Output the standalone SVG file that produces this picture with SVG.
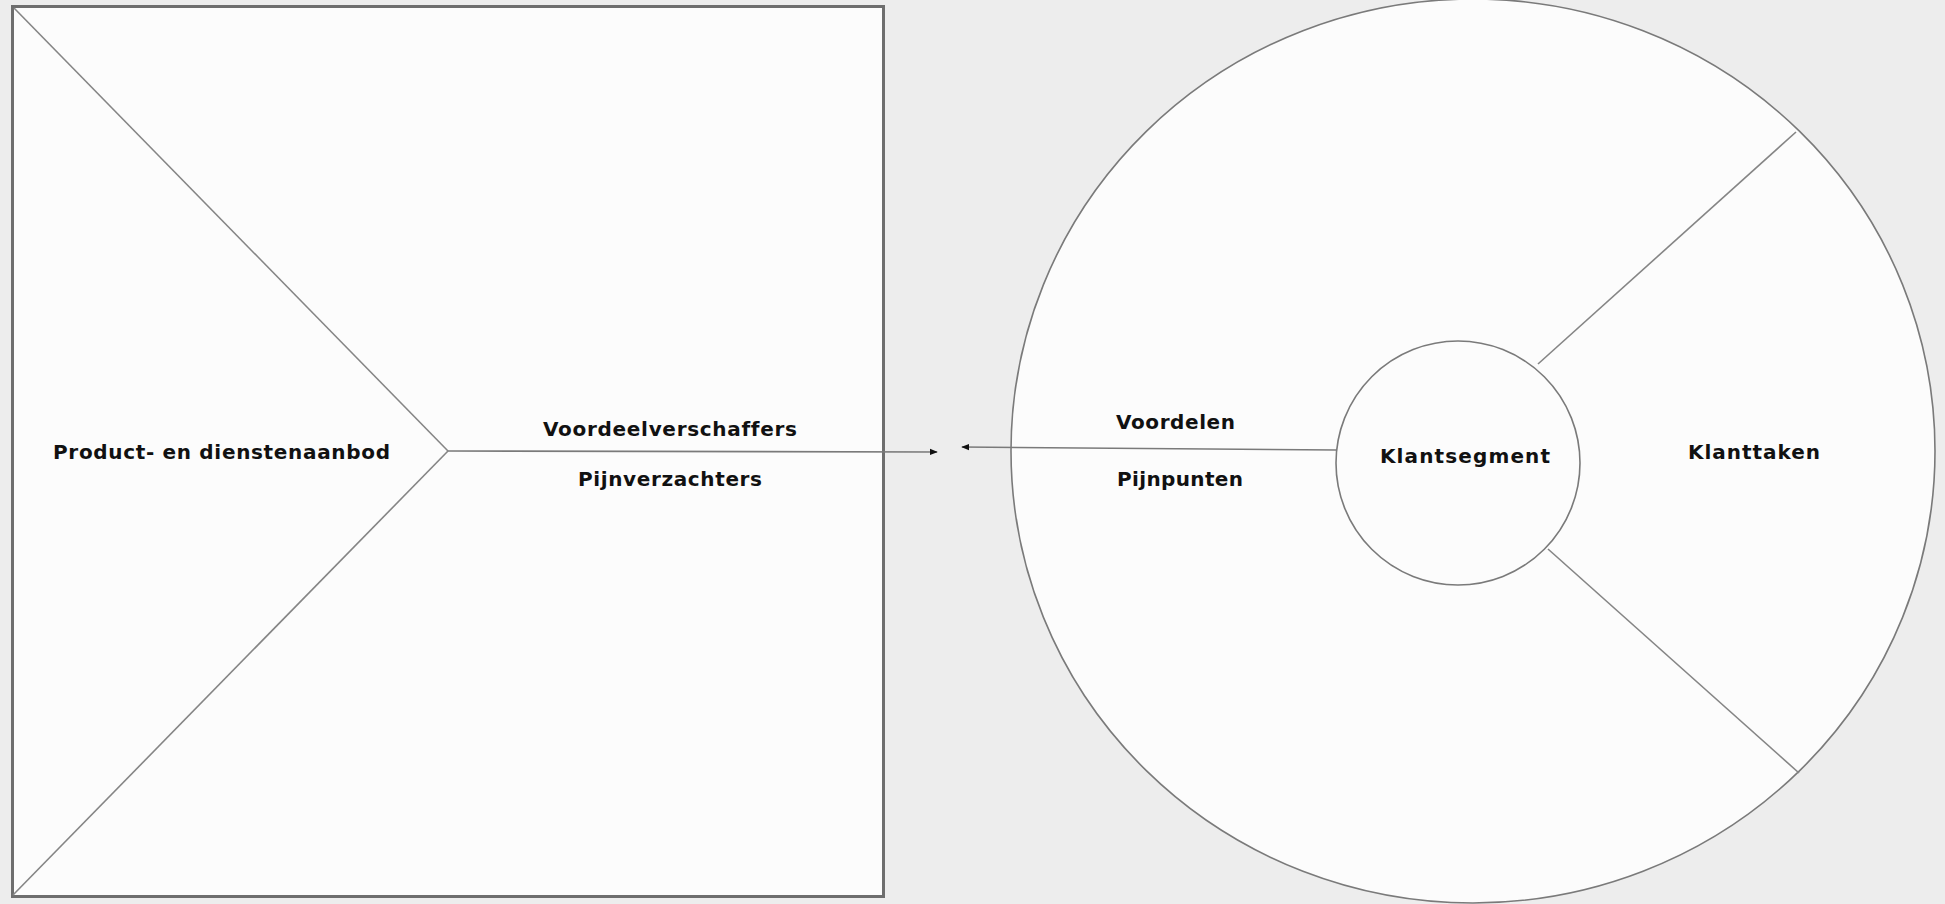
<svg xmlns="http://www.w3.org/2000/svg" width="1945" height="904" viewBox="0 0 1945 904">
  <style>
    .lbl { font-family: "DejaVu Sans", "Liberation Sans", sans-serif; font-weight: 700; font-size: 20px; fill: #111; text-anchor: middle; font-variant-ligatures: none; }
    .frame { fill: #fcfcfc; stroke: #6e6e6e; stroke-width: 3; }
    .shape { fill: #fcfcfc; stroke: #7a7a7a; stroke-width: 1.6; }
    .div { stroke: #858585; stroke-width: 1.6; fill: none; }
    .conn { stroke: #7a7a7a; stroke-width: 1.6; fill: none; }
  </style>
  <defs>
    <marker id="arrow" viewBox="0 0 10 10" refX="9" refY="5" markerWidth="8" markerHeight="8" orient="auto-start-reverse" markerUnits="userSpaceOnUse">
      <path d="M0,1 L10,5 L0,9 z" fill="#111"/>
    </marker>
  </defs>
  <rect x="0" y="0" width="1945" height="904" fill="#ededed"/>

  <g id="value-map">
    <rect class="frame" x="12.5" y="6.5" width="871" height="890"/>
    <line class="div" x1="14" y1="8" x2="448" y2="451"/>
    <line class="div" x1="13" y1="895" x2="448" y2="451"/>
    <text class="lbl" x="221.5" y="459" textLength="337" lengthAdjust="spacing">Product- en dienstenaanbod</text>
    <text class="lbl" x="670" y="436" textLength="254" lengthAdjust="spacing">Voordeelverschaffers</text>
    <text class="lbl" x="670" y="486" textLength="184" lengthAdjust="spacing">Pijnverzachters</text>
  </g>

  <g id="customer-profile">
    <ellipse class="shape" cx="1473" cy="451" rx="462" ry="452"/>
    <line class="div" x1="1538" y1="364" x2="1796" y2="132"/>
    <line class="div" x1="1548" y1="549" x2="1799" y2="773"/>
    <text class="lbl" x="1175.5" y="429" textLength="119" lengthAdjust="spacing">Voordelen</text>
    <text class="lbl" x="1180" y="486" textLength="126" lengthAdjust="spacing">Pijnpunten</text>
    <text class="lbl" x="1754" y="459" textLength="132" lengthAdjust="spacing">Klanttaken</text>
  </g>

  <g id="connectors">
    <line class="conn" x1="448" y1="451" x2="937" y2="452" marker-end="url(#arrow)"/>
    <line class="conn" x1="1337" y1="450" x2="962" y2="447" marker-end="url(#arrow)"/>
  </g>

  <g id="klantsegment">
    <circle class="shape" cx="1458" cy="463" r="122"/>
    <text class="lbl" x="1465" y="463" textLength="170" lengthAdjust="spacing">Klantsegment</text>
  </g>
</svg>
